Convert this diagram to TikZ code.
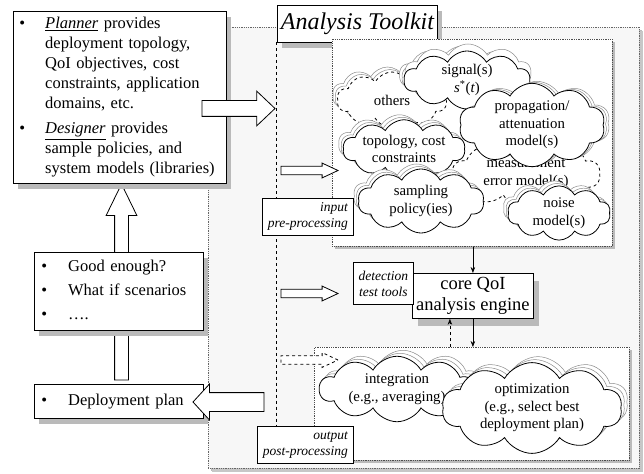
\documentclass[tikz,border=0pt]{standalone}
\usepackage{fontspec}
\setmainfont{Liberation Serif}
\usetikzlibrary{shapes.symbols,shapes.arrows,shadows,arrows.meta}

\newcommand{\bodyfont}{\fontsize{16.5bp}{20bp}\selectfont}
\newcommand{\cloudfont}{\fontsize{14.8bp}{17.5bp}\selectfont}
\newcommand{\tagfont}{\fontsize{13.5bp}{16bp}\selectfont\itshape}
\newcommand{\titlefont}{\fontsize{24bp}{28bp}\selectfont\itshape}
\newcommand{\corefont}{\fontsize{18.5bp}{21bp}\selectfont}

\begin{document}
\begin{tikzpicture}[x=1bp, y=-1bp, line width=0.8bp,
    plain box/.style={draw, fill=white, inner sep=0pt, anchor=north west},
    shade box/.style={plain box, drop shadow={shadow xshift=5bp, shadow yshift=-6bp, fill=black!27, opacity=1}},
    region/.style={draw=black!70, densely dotted, fill=white, inner sep=0pt, anchor=north west,
        drop shadow={shadow xshift=3bp, shadow yshift=-3bp, fill=black!27, opacity=1}},
    tag box/.style={plain box, font=\tagfont, align=right},
    idea/.style={cloud, cloud puffs=10, cloud puff arc=120, cloud ignores aspect,
        draw, fill=white, inner sep=0pt, align=center, font=\cloudfont},
    back/.style={draw=black!45, fill=white, line width=0.5bp, solid},
    lib in/.style={idea,
        copy shadow={shadow xshift=-4.5bp, shadow yshift=5bp, back},
        copy shadow={shadow xshift=-2bp, shadow yshift=2.5bp, back}},
    lib out/.style={idea,
        copy shadow={shadow xshift=6bp, shadow yshift=6bp, back},
        copy shadow={shadow xshift=3bp, shadow yshift=3bp, back}},
    fat arrow/.style={single arrow, draw, fill=white, inner sep=0pt, single arrow head indent=0pt,
        anchor=tail, outer sep=0pt},
    thin arrow/.style={fat arrow, minimum height=57bp, inner ysep=3.8bp,
        single arrow head extend=3.2bp, single arrow tip angle=50},
    tip/.style={-{Stealth[length=6bp,width=4.5bp]}, line width=0.6bp}]

\useasboundingbox (0,0) rectangle (644,474);

% toolkit frame
\node[region, fill=black!3, draw=black!60, drop shadow={shadow xshift=4bp, shadow yshift=-4bp, fill=black!22, opacity=1},
    minimum width=431bp, minimum height=441bp] (kit) at (208,27) {};
\node[shade box, font=\titlefont, minimum width=160bp, minimum height=37bp] (title) at (277,5) {Analysis Toolkit};
\draw[dashed, line width=0.6bp] (276,42) -- (276,426);

\node[region, minimum width=280bp, minimum height=207bp] (inbox) at (332,39) {};
\node[region, minimum width=315bp, minimum height=113bp] (outbox) at (314,347) {};

% input models
\node[lib in, dashed, minimum width=110bp, minimum height=56bp] (others) at (392,100) {others};
\node[lib in, copy shadow={shadow xshift=1bp, shadow yshift=7bp, back}, minimum width=126bp, minimum height=58bp] (signal) at (467,80) {signal(s)\\\textit{s}\textsuperscript{*}(\textit{t})};
\node[lib in, minimum width=122bp, minimum height=58bp] (topo) at (404,149) {topology, cost\\constraints};
\node[idea, dashed, minimum width=148bp, minimum height=68bp] (meas) at (526,174) {measurement\\error model(s)};
\node[idea, copy shadow={shadow xshift=5bp, shadow yshift=2bp, back}, copy shadow={shadow xshift=2.5bp, shadow yshift=1bp, back},
    minimum width=146bp, minimum height=62bp] (prop) at (532,125) {propagation/\\attenuation\\model(s)};
\node[lib in, minimum width=126bp, minimum height=64bp] (samp) at (421,201) {sampling\\policy(ies)};
\node[lib in, minimum width=103bp, minimum height=50bp] (noise) at (559,213) {noise\\model(s)};

% engine
\node[plain box, font=\corefont, align=center, minimum width=121bp, minimum height=45bp,
    drop shadow={shadow xshift=6bp, shadow yshift=-8bp, fill=black!27, opacity=1}] (core) at (412,273) {core QoI\\analysis engine};
\node[plain box, font=\tagfont, align=center, minimum width=60bp, minimum height=42bp] (detect) at (353,262) {detection\\test tools};

% output processing
\node[lib out, minimum width=155bp, minimum height=64bp] (integ) at (397,389) {integration\\(e.g., averaging)};
\node[lib out, minimum width=180bp, minimum height=88bp] (optim) at (532,408) {optimization\\(e.g., select best\\deployment plan)};

\node[tag box, minimum width=91bp, minimum height=37bp] (inlabel) at (262,198) {input\\pre-processing};
\node[tag box, minimum width=96bp, minimum height=37bp] (outlabel) at (257,426) {output\\post-processing};

\coordinate (fb) at ([xshift=-23bp]core.south);
\draw[tip] (core.north |- inbox.south) -- (core.north);
\draw[tip] (core.south) -- (core.south |- outbox.north);
\draw[tip, dashed] (fb |- outbox.north) -- (fb);

\node[thin arrow] (inArr) at (281,170.5) {};
\node[thin arrow] (coreArr) at (281,293.5) {};
\node[thin arrow, dashed] (outArr) at (281,360) {};

% left column
\node[fat arrow, rotate=90, minimum height=196bp, inner ysep=6.5bp,
    single arrow head extend=8.5bp, single arrow tip angle=52] (upArr) at (121.5,380) {};

\node[shade box, font=\bodyfont, text width=201bp, inner xsep=6bp, align=left, minimum height=172bp] (plan) at (13,11) {%
  \begin{tabular}{@{}l@{\hspace{20bp}}l@{}}
  \textbullet & \textit{\underline{Planner}} provides\\
   & deployment topology,\\
   & QoI objectives, cost\\
   & constraints, application\\
   & domains, etc.\\[5bp]
  \textbullet & \textit{\underline{Designer}} provides\\
   & sample policies, and\\
   & system models (libraries)
  \end{tabular}};

\node[shade box, font=\bodyfont, text width=155bp, inner xsep=7bp, align=left, minimum height=78bp] (good) at (34,252) {%
  \begin{tabular}{@{}l@{\hspace{21bp}}l@{}}
  \textbullet & Good enough?\\[4bp]
  \textbullet & What if scenarios\\[4bp]
  \textbullet & ….
  \end{tabular}};

\node[shade box, font=\bodyfont, text width=155bp, inner xsep=7bp, align=left, minimum height=34bp] (deploy) at (34,384) {%
  \begin{tabular}{@{}l@{\hspace{21bp}}l@{}}
  \textbullet & Deployment plan
  \end{tabular}};

\node[fat arrow, minimum height=73bp, inner ysep=7.5bp,
    single arrow head extend=9.5bp, single arrow tip angle=87] (planArr) at (202,108.5) {};
\node[fat arrow, rotate=180, minimum height=71bp, inner ysep=9bp,
    single arrow head extend=8.5bp, single arrow tip angle=95] (depArr) at (264,402) {};

\end{tikzpicture}
\end{document}
